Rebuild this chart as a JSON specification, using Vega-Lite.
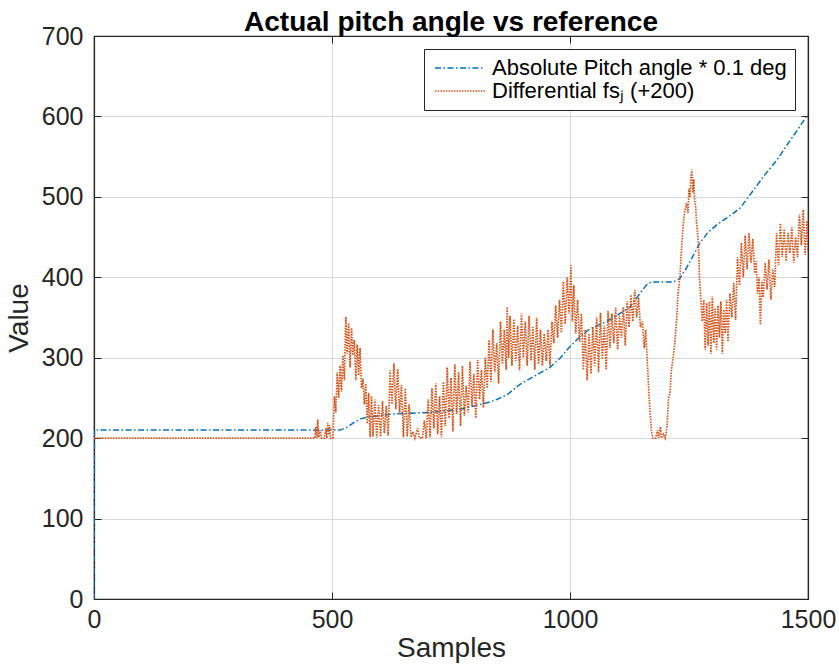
{
  "$schema": "https://vega.github.io/schema/vega-lite/v6.json",
  "width": 714,
  "height": 563,
  "autosize": {"type": "none"},
  "padding": {"left": 94, "top": 36, "right": 31, "bottom": 67},
  "background": "white",
  "config": {
    "font": "Liberation Sans",
    "view": {"stroke": "#262626", "strokeWidth": 1.2},
    "axis": {
      "labelFont": "Liberation Sans",
      "titleFont": "Liberation Sans",
      "labelColor": "#262626",
      "titleColor": "#262626",
      "domainColor": "#262626",
      "tickColor": "#262626",
      "labelFontSize": 25,
      "titleFontSize": 28,
      "titleFontWeight": "normal",
      "gridColor": "#d9d9d9",
      "gridWidth": 1,
      "domainWidth": 1.2
    },
    "legend": {
      "orient": "top-right",
      "offset": 13,
      "fillColor": "white",
      "strokeColor": "#262626",
      "padding": 8,
      "labelFont": "Liberation Sans",
      "labelFontSize": 22,
      "labelColor": "black",
      "labelLimit": 0,
      "symbolType": "M-0.8,0H4.2",
      "symbolSize": 400,
      "symbolStrokeWidth": 1.4,
      "rowPadding": 1,
      "labelOffset": 38
    }
  },
  "title": {
    "text": "Actual pitch angle vs reference",
    "font": "Liberation Sans",
    "fontSize": 28,
    "fontWeight": "bold",
    "color": "black",
    "offset": -13
  },
  "datasets": {
    "blue": [
      {"x": 0, "y": 0}, {"x": 1, "y": 210}, {"x": 500, "y": 210}, {"x": 517, "y": 210},
      {"x": 530, "y": 213}, {"x": 545, "y": 219}, {"x": 560, "y": 224}, {"x": 573, "y": 226},
      {"x": 600, "y": 228}, {"x": 630, "y": 230}, {"x": 664, "y": 231}, {"x": 706, "y": 232},
      {"x": 740, "y": 234}, {"x": 769, "y": 236}, {"x": 790, "y": 239}, {"x": 826, "y": 244},
      {"x": 846, "y": 248}, {"x": 868, "y": 254}, {"x": 895, "y": 267}, {"x": 922, "y": 276},
      {"x": 940, "y": 282}, {"x": 958, "y": 288}, {"x": 980, "y": 300}, {"x": 1000, "y": 314},
      {"x": 1021, "y": 326}, {"x": 1042, "y": 336}, {"x": 1077, "y": 345}, {"x": 1105, "y": 355},
      {"x": 1126, "y": 363}, {"x": 1147, "y": 380}, {"x": 1160, "y": 390}, {"x": 1170, "y": 394},
      {"x": 1200, "y": 394}, {"x": 1216, "y": 394}, {"x": 1230, "y": 398}, {"x": 1245, "y": 412},
      {"x": 1260, "y": 428}, {"x": 1273, "y": 443}, {"x": 1290, "y": 456}, {"x": 1310, "y": 466},
      {"x": 1340, "y": 478}, {"x": 1357, "y": 486}, {"x": 1370, "y": 496}, {"x": 1390, "y": 512},
      {"x": 1410, "y": 528}, {"x": 1435, "y": 546}, {"x": 1460, "y": 568}, {"x": 1480, "y": 585},
      {"x": 1500, "y": 603}
    ],
    "orange": [
      {"x": 0, "y": 200}, {"x": 460, "y": 200}, {"x": 464, "y": 200}, {"x": 466, "y": 214}, {"x": 468, "y": 200},
      {"x": 470, "y": 223}, {"x": 472, "y": 201}, {"x": 475, "y": 210}, {"x": 478, "y": 200}, {"x": 484, "y": 200},
      {"x": 487, "y": 212}, {"x": 489, "y": 200}, {"x": 491, "y": 219}, {"x": 493, "y": 204}, {"x": 495, "y": 216},
      {"x": 497, "y": 200}, {"x": 502, "y": 200}, {"x": 505, "y": 252}, {"x": 508, "y": 232}, {"x": 511, "y": 282},
      {"x": 514, "y": 250}, {"x": 517, "y": 290}, {"x": 520, "y": 258}, {"x": 523, "y": 303}, {"x": 526, "y": 272},
      {"x": 529, "y": 351}, {"x": 532, "y": 305}, {"x": 535, "y": 343}, {"x": 538, "y": 288}, {"x": 541, "y": 337},
      {"x": 544, "y": 303}, {"x": 547, "y": 322}, {"x": 550, "y": 272}, {"x": 553, "y": 316}, {"x": 556, "y": 278},
      {"x": 559, "y": 312}, {"x": 562, "y": 262}, {"x": 565, "y": 274}, {"x": 568, "y": 242}, {"x": 571, "y": 268},
      {"x": 574, "y": 218}, {"x": 577, "y": 256}, {"x": 580, "y": 201}, {"x": 583, "y": 252}, {"x": 586, "y": 202},
      {"x": 590, "y": 248}, {"x": 594, "y": 201}, {"x": 598, "y": 241}, {"x": 602, "y": 202}, {"x": 606, "y": 246},
      {"x": 610, "y": 206}, {"x": 614, "y": 240}, {"x": 618, "y": 203}, {"x": 622, "y": 284}, {"x": 626, "y": 242},
      {"x": 630, "y": 293}, {"x": 634, "y": 236}, {"x": 638, "y": 286}, {"x": 642, "y": 232}, {"x": 646, "y": 266},
      {"x": 650, "y": 201}, {"x": 654, "y": 262}, {"x": 658, "y": 202}, {"x": 662, "y": 242}, {"x": 666, "y": 201},
      {"x": 670, "y": 208}, {"x": 674, "y": 200}, {"x": 680, "y": 212}, {"x": 684, "y": 200}, {"x": 690, "y": 200},
      {"x": 694, "y": 222}, {"x": 698, "y": 200}, {"x": 702, "y": 248}, {"x": 706, "y": 201}, {"x": 710, "y": 262},
      {"x": 714, "y": 212}, {"x": 718, "y": 268}, {"x": 722, "y": 205}, {"x": 726, "y": 252}, {"x": 730, "y": 201},
      {"x": 734, "y": 270}, {"x": 738, "y": 215}, {"x": 742, "y": 288}, {"x": 746, "y": 225}, {"x": 750, "y": 275},
      {"x": 754, "y": 208}, {"x": 758, "y": 292}, {"x": 762, "y": 230}, {"x": 766, "y": 282}, {"x": 770, "y": 215},
      {"x": 774, "y": 290}, {"x": 778, "y": 228}, {"x": 782, "y": 265}, {"x": 786, "y": 232}, {"x": 790, "y": 295},
      {"x": 794, "y": 240}, {"x": 798, "y": 280}, {"x": 802, "y": 225}, {"x": 806, "y": 297}, {"x": 810, "y": 248},
      {"x": 814, "y": 285}, {"x": 818, "y": 238}, {"x": 822, "y": 300}, {"x": 826, "y": 262}, {"x": 830, "y": 322},
      {"x": 834, "y": 270}, {"x": 838, "y": 335}, {"x": 842, "y": 282}, {"x": 846, "y": 318}, {"x": 850, "y": 268},
      {"x": 854, "y": 345}, {"x": 858, "y": 292}, {"x": 862, "y": 335}, {"x": 866, "y": 285}, {"x": 868, "y": 363},
      {"x": 871, "y": 300}, {"x": 874, "y": 352}, {"x": 878, "y": 290}, {"x": 882, "y": 348}, {"x": 886, "y": 296},
      {"x": 890, "y": 340}, {"x": 894, "y": 284}, {"x": 898, "y": 355}, {"x": 902, "y": 300}, {"x": 906, "y": 345},
      {"x": 910, "y": 290}, {"x": 914, "y": 352}, {"x": 918, "y": 296}, {"x": 922, "y": 338}, {"x": 926, "y": 285},
      {"x": 930, "y": 350}, {"x": 934, "y": 292}, {"x": 938, "y": 335}, {"x": 942, "y": 290}, {"x": 946, "y": 330},
      {"x": 950, "y": 296}, {"x": 954, "y": 335}, {"x": 958, "y": 290}, {"x": 962, "y": 345}, {"x": 966, "y": 318},
      {"x": 970, "y": 365}, {"x": 974, "y": 325}, {"x": 978, "y": 372}, {"x": 982, "y": 331}, {"x": 986, "y": 395},
      {"x": 990, "y": 342}, {"x": 994, "y": 400}, {"x": 998, "y": 355}, {"x": 1002, "y": 415}, {"x": 1005, "y": 345},
      {"x": 1008, "y": 390}, {"x": 1012, "y": 330}, {"x": 1016, "y": 372}, {"x": 1020, "y": 320}, {"x": 1024, "y": 355},
      {"x": 1028, "y": 285}, {"x": 1032, "y": 335}, {"x": 1036, "y": 272}, {"x": 1040, "y": 330}, {"x": 1044, "y": 280},
      {"x": 1048, "y": 338}, {"x": 1052, "y": 290}, {"x": 1056, "y": 350}, {"x": 1060, "y": 282}, {"x": 1064, "y": 356},
      {"x": 1068, "y": 298}, {"x": 1072, "y": 340}, {"x": 1076, "y": 285}, {"x": 1080, "y": 358}, {"x": 1084, "y": 312},
      {"x": 1088, "y": 355}, {"x": 1092, "y": 318}, {"x": 1096, "y": 362}, {"x": 1100, "y": 310}, {"x": 1104, "y": 352},
      {"x": 1108, "y": 325}, {"x": 1112, "y": 363}, {"x": 1116, "y": 315}, {"x": 1120, "y": 370}, {"x": 1124, "y": 338},
      {"x": 1128, "y": 378}, {"x": 1132, "y": 345}, {"x": 1136, "y": 384}, {"x": 1140, "y": 350}, {"x": 1144, "y": 375},
      {"x": 1148, "y": 338}, {"x": 1152, "y": 345}, {"x": 1156, "y": 312}, {"x": 1159, "y": 335}, {"x": 1162, "y": 300},
      {"x": 1165, "y": 265}, {"x": 1168, "y": 235}, {"x": 1171, "y": 210}, {"x": 1174, "y": 200}, {"x": 1180, "y": 200},
      {"x": 1184, "y": 210}, {"x": 1186, "y": 200}, {"x": 1190, "y": 214}, {"x": 1192, "y": 200}, {"x": 1196, "y": 205},
      {"x": 1200, "y": 200}, {"x": 1204, "y": 215}, {"x": 1207, "y": 250}, {"x": 1210, "y": 256}, {"x": 1213, "y": 285},
      {"x": 1217, "y": 301}, {"x": 1220, "y": 318}, {"x": 1224, "y": 347}, {"x": 1227, "y": 380}, {"x": 1231, "y": 401},
      {"x": 1235, "y": 443}, {"x": 1238, "y": 467}, {"x": 1241, "y": 482}, {"x": 1245, "y": 492}, {"x": 1248, "y": 480},
      {"x": 1250, "y": 510}, {"x": 1252, "y": 500}, {"x": 1254, "y": 525}, {"x": 1256, "y": 534}, {"x": 1258, "y": 505},
      {"x": 1260, "y": 522}, {"x": 1262, "y": 495}, {"x": 1264, "y": 488}, {"x": 1266, "y": 467}, {"x": 1268, "y": 455},
      {"x": 1270, "y": 440}, {"x": 1272, "y": 400}, {"x": 1275, "y": 370}, {"x": 1278, "y": 345}, {"x": 1281, "y": 372},
      {"x": 1284, "y": 310}, {"x": 1287, "y": 368}, {"x": 1290, "y": 315}, {"x": 1293, "y": 370}, {"x": 1296, "y": 305},
      {"x": 1299, "y": 376}, {"x": 1302, "y": 318}, {"x": 1305, "y": 362}, {"x": 1308, "y": 310}, {"x": 1311, "y": 365},
      {"x": 1314, "y": 325}, {"x": 1317, "y": 370}, {"x": 1320, "y": 305}, {"x": 1323, "y": 360}, {"x": 1326, "y": 330},
      {"x": 1329, "y": 372}, {"x": 1332, "y": 320}, {"x": 1336, "y": 380}, {"x": 1340, "y": 350}, {"x": 1344, "y": 393},
      {"x": 1348, "y": 347}, {"x": 1352, "y": 425}, {"x": 1356, "y": 390}, {"x": 1360, "y": 443}, {"x": 1364, "y": 400},
      {"x": 1368, "y": 452}, {"x": 1372, "y": 410}, {"x": 1376, "y": 455}, {"x": 1380, "y": 418}, {"x": 1384, "y": 448},
      {"x": 1388, "y": 405}, {"x": 1391, "y": 420}, {"x": 1394, "y": 380}, {"x": 1397, "y": 400}, {"x": 1400, "y": 341},
      {"x": 1403, "y": 395}, {"x": 1406, "y": 375}, {"x": 1410, "y": 418}, {"x": 1414, "y": 385}, {"x": 1418, "y": 422},
      {"x": 1422, "y": 372}, {"x": 1426, "y": 410}, {"x": 1430, "y": 388}, {"x": 1434, "y": 455}, {"x": 1438, "y": 415},
      {"x": 1442, "y": 467}, {"x": 1446, "y": 425}, {"x": 1450, "y": 460}, {"x": 1454, "y": 420}, {"x": 1458, "y": 455},
      {"x": 1462, "y": 430}, {"x": 1466, "y": 462}, {"x": 1470, "y": 418}, {"x": 1474, "y": 450}, {"x": 1478, "y": 425},
      {"x": 1482, "y": 478}, {"x": 1486, "y": 440}, {"x": 1490, "y": 484}, {"x": 1494, "y": 428}, {"x": 1498, "y": 470},
      {"x": 1500, "y": 432}
    ]
  },
  "resolve": {"axis": {"x": "independent", "y": "independent"}},
  "layer": [
    {
      "data": {"name": "blue"},
      "mark": {"type": "line", "strokeWidth": 1.5, "clip": true},
      "encoding": {
        "x": {
          "field": "x", "type": "quantitative",
          "scale": {"domain": [0, 1500], "nice": false},
          "axis": {"orient": "bottom", "title": "Samples", "values": [0, 500, 1000, 1500], "format": "d", "tickSize": -7, "labelPadding": 15, "titlePadding": 2, "grid": true, "labelFlush": false}
        },
        "y": {
          "field": "y", "type": "quantitative",
          "scale": {"domain": [0, 700], "nice": false},
          "axis": {"orient": "left", "title": "Value", "values": [0, 100, 200, 300, 400, 500, 600, 700], "format": "d", "tickSize": -7, "labelPadding": 18, "titlePadding": 8, "grid": true, "labelFlush": false}
        },
        "color": {
          "datum": "Absolute Pitch angle * 0.1 deg",
          "scale": {"domain": ["Absolute Pitch angle * 0.1 deg", "Differential fsⱼ (+200)"], "range": ["#0072BD", "#D95319"]},
          "legend": {"title": null}
        },
        "strokeDash": {
          "datum": "Absolute Pitch angle * 0.1 deg",
          "scale": {"domain": ["Absolute Pitch angle * 0.1 deg", "Differential fsⱼ (+200)"], "range": [[6, 2.5, 1.5, 2.5], [1.5, 1.2]]},
          "legend": {"title": null}
        }
      }
    },
    {
      "data": {"name": "orange"},
      "mark": {"type": "line", "strokeWidth": 1.7, "clip": true},
      "encoding": {
        "x": {
          "field": "x", "type": "quantitative",
          "axis": {"orient": "top", "title": null, "labels": false, "values": [0, 500, 1000, 1500], "tickSize": -7, "grid": false}
        },
        "y": {
          "field": "y", "type": "quantitative",
          "axis": {"orient": "right", "title": null, "labels": false, "values": [0, 100, 200, 300, 400, 500, 600, 700], "tickSize": -7, "grid": false}
        },
        "color": {"datum": "Differential fsⱼ (+200)"},
        "strokeDash": {"datum": "Differential fsⱼ (+200)"}
      }
    }
  ]
}
